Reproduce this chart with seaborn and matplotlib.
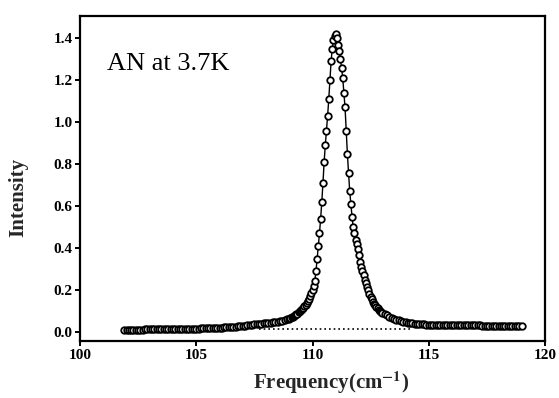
import matplotlib
matplotlib.use("Agg")
import matplotlib.pyplot as plt
import seaborn as sns
import pandas as pd

# ---- data ----
freq_low = [101.9, 102.0, 102.1, 102.2, 102.3, 102.4, 102.5, 102.6, 102.7, 102.8,
            102.9, 103.0, 103.1, 103.2, 103.3, 103.4, 103.5, 103.6, 103.7, 103.8,
            103.9, 104.0, 104.1, 104.2, 104.3, 104.4, 104.5, 104.6, 104.7, 104.8,
            104.9, 105.0, 105.1, 105.2, 105.3, 105.4, 105.5, 105.6, 105.7, 105.8,
            105.9, 106.0, 106.1, 106.2, 106.3, 106.4, 106.5, 106.6, 106.7, 106.8,
            106.9, 107.0, 107.1, 107.2, 107.3, 107.4, 107.5, 107.6, 107.7, 107.8,
            107.9, 108.0, 108.1, 108.2, 108.3, 108.4, 108.5, 108.6, 108.7, 108.8,
            108.9]
int_low = [0.010, 0.010, 0.010, 0.010, 0.011, 0.011, 0.011, 0.011, 0.011, 0.012,
           0.012, 0.012, 0.012, 0.012, 0.012, 0.013, 0.013, 0.013, 0.013, 0.013,
           0.013, 0.014, 0.014, 0.014, 0.014, 0.015, 0.015, 0.015, 0.015, 0.016,
           0.016, 0.016, 0.016, 0.017, 0.017, 0.018, 0.018, 0.019, 0.019, 0.020,
           0.020, 0.021, 0.021, 0.022, 0.022, 0.023, 0.024, 0.025, 0.026, 0.027,
           0.028, 0.029, 0.030, 0.032, 0.033, 0.035, 0.036, 0.038, 0.039, 0.040,
           0.041, 0.042, 0.043, 0.044, 0.046, 0.047, 0.049, 0.051, 0.054, 0.057,
           0.060]

freq_peak = [109.0, 109.05, 109.1, 109.15, 109.2, 109.25, 109.3, 109.35, 109.4, 109.45,
             109.5, 109.55, 109.6, 109.65, 109.7, 109.75, 109.8, 109.85, 109.9, 109.95,
             110.0, 110.05, 110.1, 110.15, 110.2, 110.25, 110.3, 110.35, 110.4, 110.45,
             110.5, 110.55, 110.6, 110.65, 110.7, 110.75, 110.8, 110.85, 110.9, 110.95,
             111.0, 111.05, 111.1, 111.15, 111.2, 111.25, 111.3, 111.35, 111.4, 111.45,
             111.5, 111.55, 111.6, 111.65, 111.7, 111.75, 111.8, 111.85, 111.9, 111.95,
             112.0, 112.05, 112.1, 112.15, 112.2, 112.25, 112.3, 112.35, 112.4, 112.45,
             112.5, 112.55, 112.6, 112.65, 112.7, 112.75, 112.8, 112.85, 112.9, 112.95,
             113.0]
int_peak = [0.064, 0.067, 0.070, 0.073, 0.076, 0.080, 0.084, 0.088, 0.093, 0.098,
            0.103, 0.108, 0.115, 0.122, 0.130, 0.139, 0.148, 0.159, 0.171, 0.185,
            0.200, 0.220, 0.245, 0.290, 0.350, 0.410, 0.470, 0.540, 0.620, 0.710,
            0.810, 0.890, 0.960, 1.030, 1.110, 1.200, 1.290, 1.350, 1.390, 1.410,
            1.420, 1.400, 1.370, 1.340, 1.300, 1.260, 1.210, 1.140, 1.070, 0.960,
            0.850, 0.760, 0.670, 0.610, 0.550, 0.500, 0.470, 0.440, 0.420, 0.395,
            0.365, 0.335, 0.310, 0.290, 0.270, 0.250, 0.235, 0.215, 0.200, 0.180,
            0.168, 0.155, 0.145, 0.135, 0.128, 0.120, 0.113, 0.107, 0.101, 0.096,
            0.092]

freq_high = [113.1, 113.2, 113.3, 113.4, 113.5, 113.6, 113.7, 113.8, 113.9, 114.0,
             114.1, 114.2, 114.3, 114.4, 114.5, 114.6, 114.7, 114.8, 114.9, 115.0,
             115.1, 115.2, 115.3, 115.4, 115.5, 115.6, 115.7, 115.8, 115.9, 116.0,
             116.1, 116.2, 116.3, 116.4, 116.5, 116.6, 116.7, 116.8, 116.9, 117.0,
             117.1, 117.2, 117.3, 117.4, 117.5, 117.6, 117.7, 117.8, 117.9, 118.0,
             118.1, 118.2, 118.3, 118.4, 118.5, 118.6, 118.7, 118.8, 118.9, 119.0]
int_high = [0.085, 0.079, 0.073, 0.068, 0.063, 0.059, 0.055, 0.052, 0.049, 0.047,
            0.045, 0.043, 0.042, 0.040, 0.039, 0.038, 0.037, 0.036, 0.035, 0.035,
            0.034, 0.034, 0.034, 0.034, 0.033, 0.033, 0.033, 0.033, 0.032, 0.032,
            0.032, 0.032, 0.032, 0.032, 0.031, 0.031, 0.031, 0.031, 0.031, 0.031,
            0.031, 0.031, 0.030, 0.030, 0.030, 0.030, 0.030, 0.030, 0.030, 0.030,
            0.030, 0.030, 0.029, 0.029, 0.029, 0.029, 0.029, 0.029, 0.029, 0.029]

base_freq = [107.7, 114.2]
base_int = [0.012, 0.012]

x_ticks = [100, 105, 110, 115, 120]
y_ticks = [0.0, 0.2, 0.4, 0.6, 0.8, 1.0, 1.2, 1.4]
y_tick_labels = ["0.0", "0.2", "0.4", "0.6", "0.8", "1.0", "1.2", "1.4"]

df = pd.DataFrame({"freq": freq_low + freq_peak + freq_high,
                   "intensity": int_low + int_peak + int_high})
df_base = pd.DataFrame({"freq": base_freq, "intensity": base_int})

# ---- style ----
sns.set_style("ticks")
plt.rcParams["font.family"] = ["Liberation Serif", "DejaVu Serif"]
plt.rcParams["mathtext.fontset"] = "stix"

fig = plt.figure(figsize=(5.59, 3.98), dpi=100)
ax = fig.add_axes([80 / 559, 1 - 341 / 398, 465 / 559, 325 / 398])

sns.lineplot(data=df_base, x="freq", y="intensity", ax=ax, color="black",
             linewidth=1.2, linestyle=(0, (1, 1.8)), estimator=None, sort=False)
sns.lineplot(data=df, x="freq", y="intensity", ax=ax, color="black",
             linewidth=1.0, estimator=None, sort=False)
sns.scatterplot(data=df, x="freq", y="intensity", ax=ax, marker="o", s=22,
                facecolor="white", edgecolor="black", linewidth=1.3, zorder=3)

ax.set_xlim(100, 120)
ax.set_ylim(-0.043, 1.506)
ax.set_xticks(x_ticks)
ax.set_xticklabels([str(t) for t in x_ticks])
ax.set_yticks(y_ticks)
ax.set_yticklabels(y_tick_labels)

for sp in ax.spines.values():
    sp.set_linewidth(1.6)
    sp.set_color("black")
ax.tick_params(axis="both", direction="out", length=3.5, width=1.4, pad=2,
               labelsize=11, colors="black")
for lab in ax.get_xticklabels() + ax.get_yticklabels():
    lab.set_fontweight("bold")

ax.set_xlabel(r"Frequency(cm$^{\mathbf{-1}}$)", fontsize=15, fontweight="bold",
              va="center")
ax.xaxis.set_label_coords(0.54, -0.13)
ax.set_ylabel("Intensity", fontsize=15, fontweight="bold", va="center")
ax.yaxis.set_label_coords(-0.133, 0.443)

ax.text(0.058, 0.834, "AN at 3.7K", transform=ax.transAxes, fontsize=19,
        ha="left", va="baseline", color="black")

fig.savefig("out.png", dpi=100, facecolor="white")
